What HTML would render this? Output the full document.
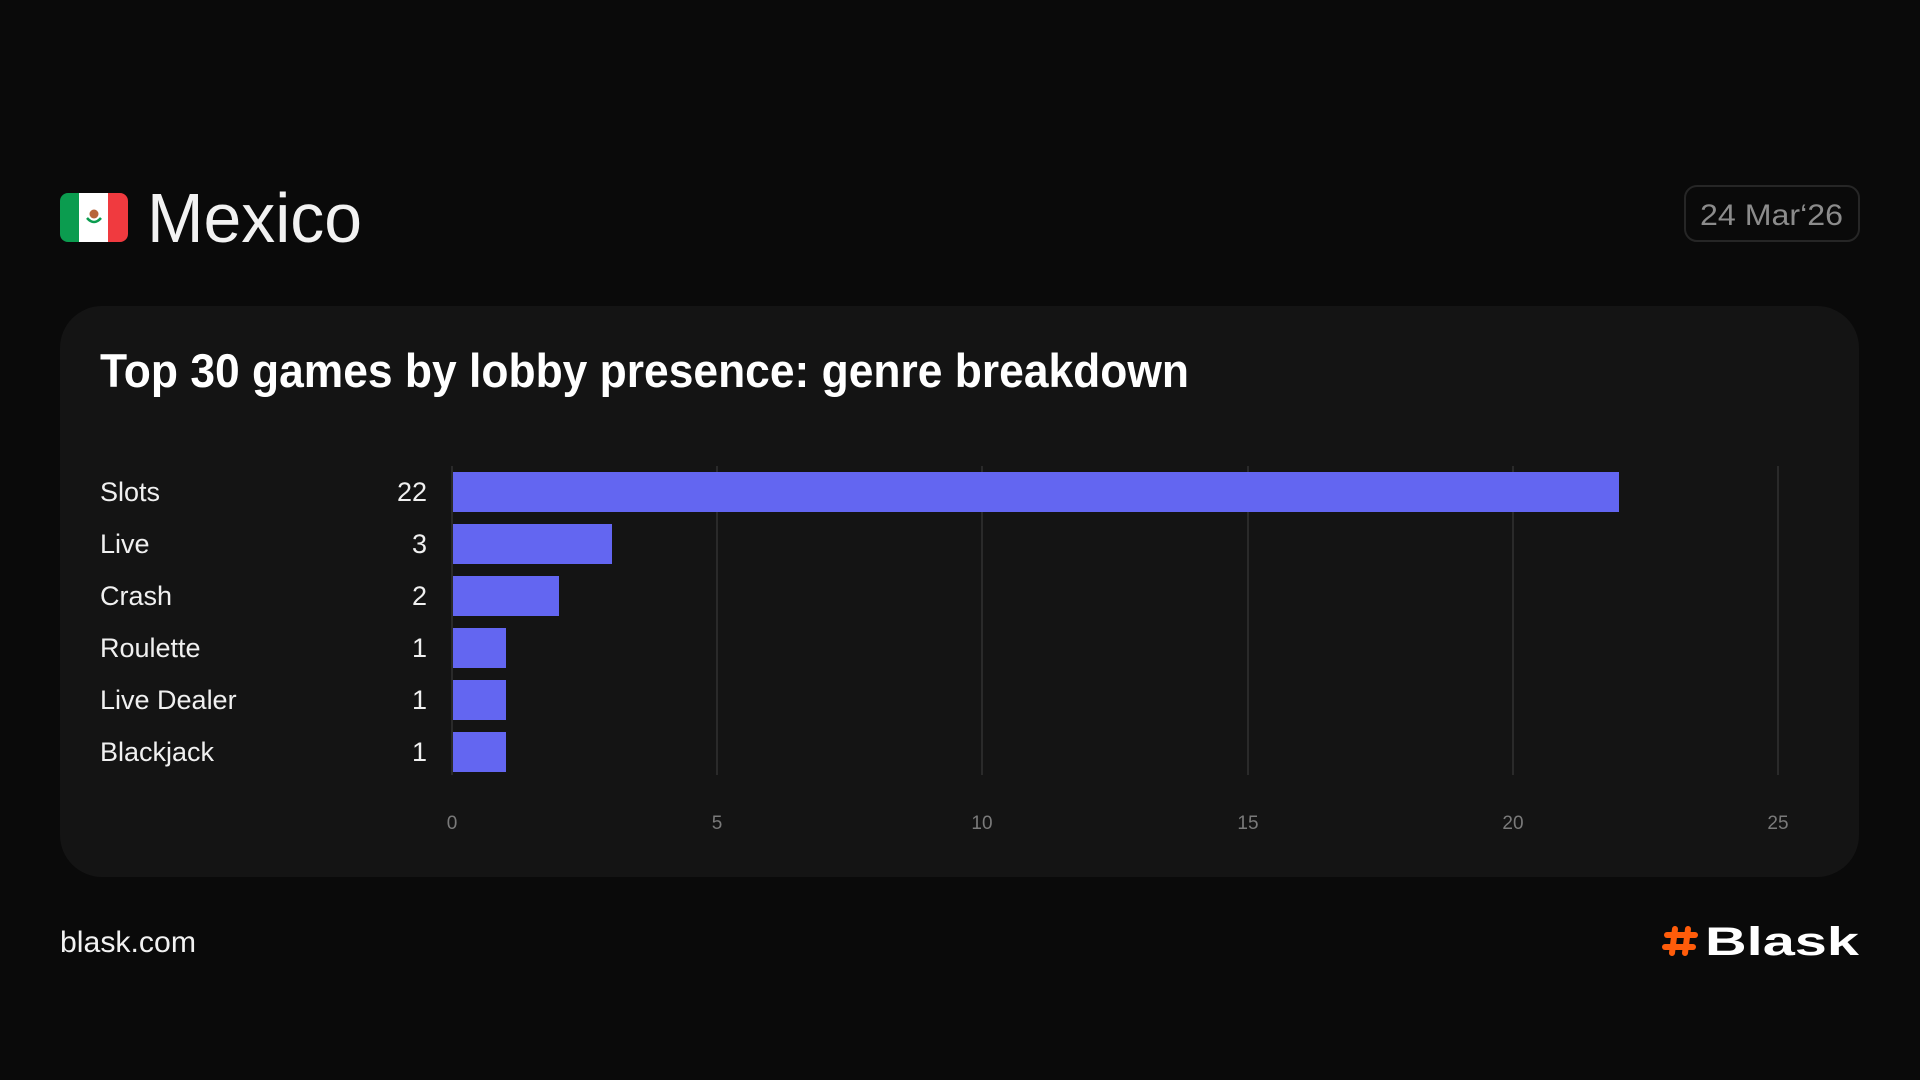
<!DOCTYPE html>
<html><head><meta charset="utf-8"><style>
html,body{margin:0;padding:0;background:#0a0a0a;}
svg{display:block;}
text{font-family:"Liberation Sans",sans-serif;}
</style></head><body>
<svg width="1920" height="1080" viewBox="0 0 1920 1080" xmlns="http://www.w3.org/2000/svg">
<rect width="1920" height="1080" fill="#0a0a0a"/>
<!-- flag -->
<clipPath id="fc"><rect x="60" y="193" width="68" height="49" rx="8"/></clipPath>
<g clip-path="url(#fc)">
<rect x="60" y="193" width="20" height="49" fill="#0b9c4f"/>
<rect x="79" y="193" width="30" height="49" fill="#ffffff"/>
<rect x="108" y="193" width="20" height="49" fill="#f03a3f"/>
</g>
<circle cx="94" cy="214" r="4.5" fill="#b8653a"/>
<path d="M87 218 Q94 226 101 218" stroke="#0b9c4f" stroke-width="2.5" fill="none"/>
<text x="147" y="242" font-size="70" fill="#f2f2f2" textLength="215" lengthAdjust="spacingAndGlyphs">Mexico</text>
<!-- date -->
<rect x="1685" y="186" width="174" height="55" rx="12" fill="none" stroke="#262626" stroke-width="2"/>
<text x="1700" y="225" font-size="30" fill="#8c8c8c" textLength="143" lengthAdjust="spacingAndGlyphs">24 Mar‘26</text>
<!-- card -->
<rect x="60" y="306" width="1799" height="571" rx="42" fill="#141414"/>
<text x="100" y="387" font-size="47" font-weight="bold" fill="#ffffff" textLength="1089" lengthAdjust="spacingAndGlyphs">Top 30 games by lobby presence: genre breakdown</text>
<!-- grid -->
<g stroke="#2a2a2a" stroke-width="2">
<line x1="452" y1="466" x2="452" y2="775"/>
<line x1="717" y1="466" x2="717" y2="775"/>
<line x1="982" y1="466" x2="982" y2="775"/>
<line x1="1248" y1="466" x2="1248" y2="775"/>
<line x1="1513" y1="466" x2="1513" y2="775"/>
<line x1="1778" y1="466" x2="1778" y2="775"/>
</g>
<g font-size="19" fill="#7a7a7a" text-anchor="middle">
<text x="452" y="829">0</text><text x="717" y="829">5</text><text x="982" y="829">10</text>
<text x="1248" y="829">15</text><text x="1513" y="829">20</text><text x="1778" y="829">25</text>
</g>
<g fill="#6366f1">
<rect x="453" y="472" width="1166" height="40"/>
<rect x="453" y="524" width="159" height="40"/>
<rect x="453" y="576" width="106" height="40"/>
<rect x="453" y="628" width="53" height="40"/>
<rect x="453" y="680" width="53" height="40"/>
<rect x="453" y="732" width="53" height="40"/>
</g>
<g font-size="27" fill="#f0f0f0">
<text x="100" y="501">Slots</text>
<text x="100" y="553">Live</text>
<text x="100" y="605">Crash</text>
<text x="100" y="657">Roulette</text>
<text x="100" y="709">Live Dealer</text>
<text x="100" y="761">Blackjack</text>
</g>
<g font-size="27" fill="#f0f0f0" text-anchor="end">
<text x="427" y="501">22</text>
<text x="427" y="553">3</text>
<text x="427" y="605">2</text>
<text x="427" y="657">1</text>
<text x="427" y="709">1</text>
<text x="427" y="761">1</text>
</g>
<!-- footer -->
<text x="60" y="952" font-size="30" fill="#f2f2f2" textLength="136" lengthAdjust="spacingAndGlyphs">blask.com</text>
<g stroke="#ff5c0a" stroke-width="6" stroke-linecap="round">
<line x1="1675" y1="929" x2="1672" y2="953"/>
<line x1="1688" y1="929" x2="1685" y2="953"/>
<line x1="1667" y1="935" x2="1695" y2="935"/>
<line x1="1665" y1="947" x2="1693" y2="947"/>
</g>
<text x="1705" y="955" font-size="40" font-weight="bold" fill="#ffffff" textLength="154" lengthAdjust="spacingAndGlyphs">Blask</text>
</svg>
</body></html>
